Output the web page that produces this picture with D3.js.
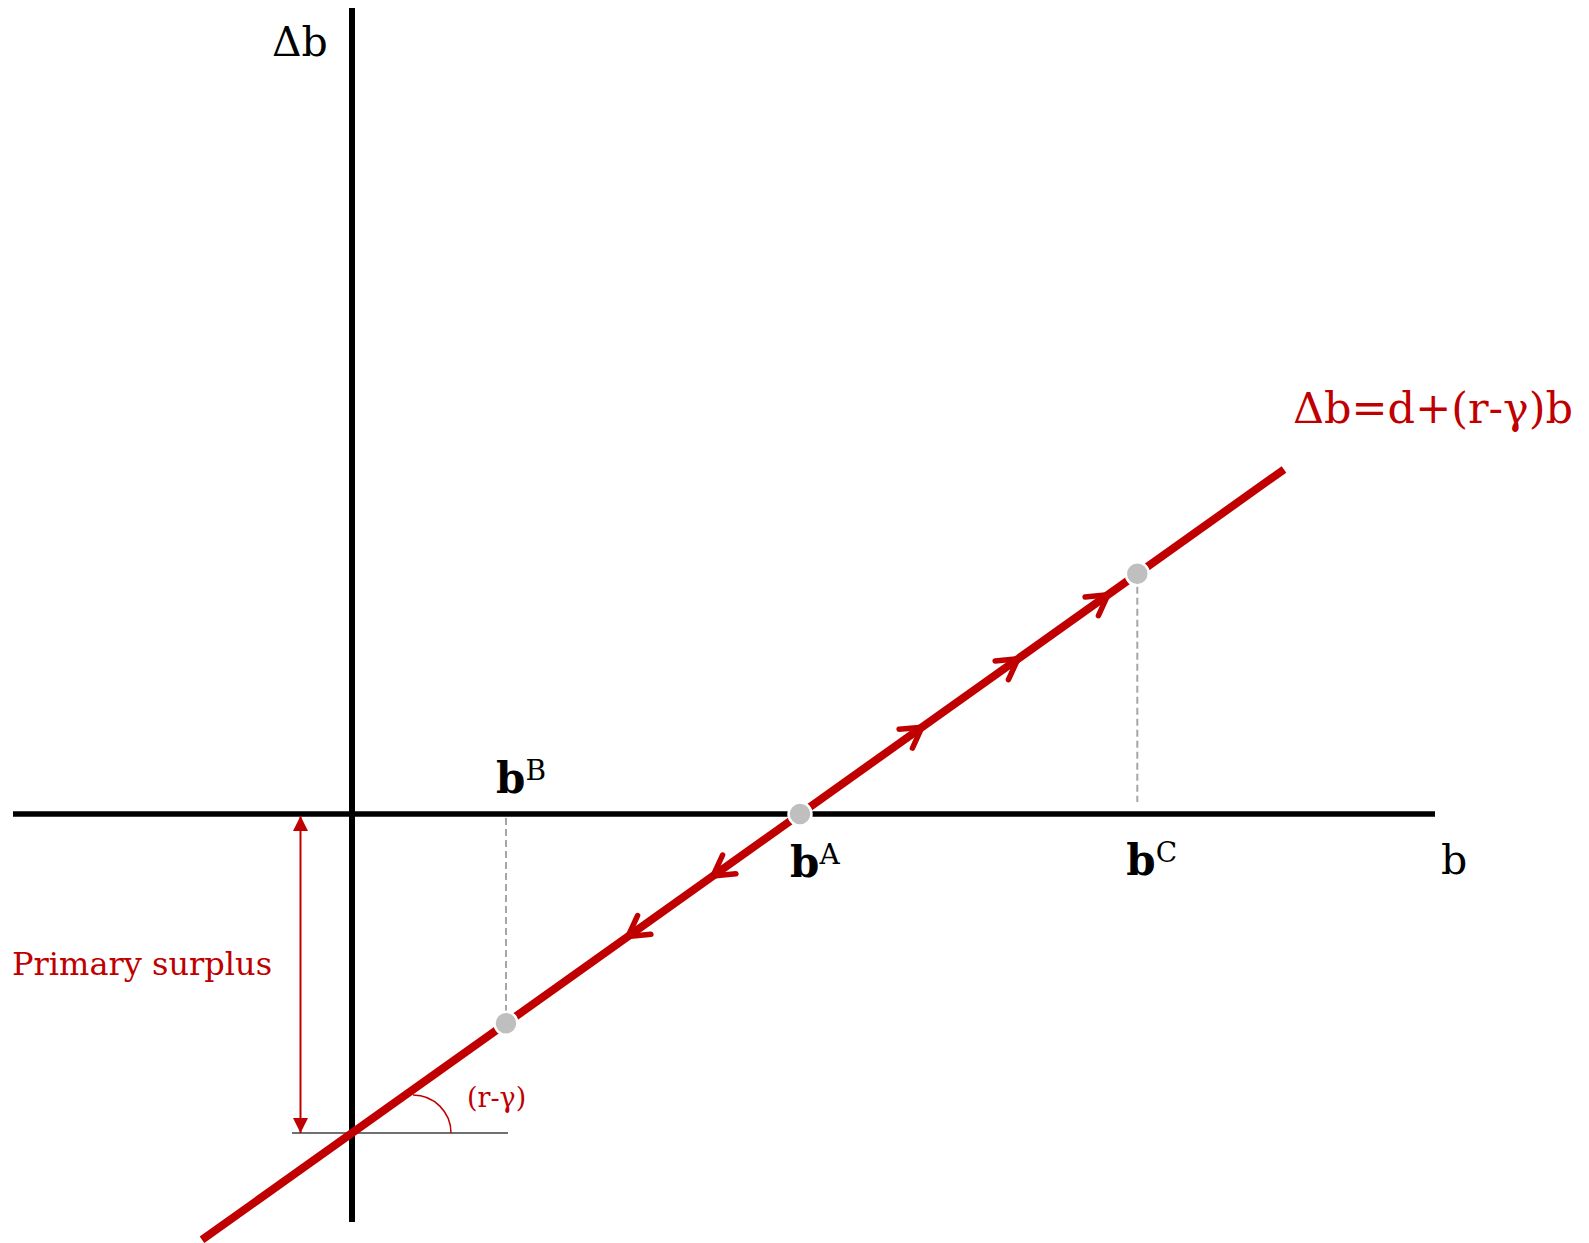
<!DOCTYPE html>
<html>
<head>
<meta charset="utf-8">
<script src="https://cdn.jsdelivr.net/npm/d3@7"></script>
<style>
  html, body { margin: 0; padding: 0; background: #fff; }
  svg { display: block; }
  text { font-family: "DejaVu Serif", "Liberation Serif", serif; }
</style>
</head>
<body>
<svg id="chart" width="1589" height="1243"></svg>
<script>
// Debt dynamics: Δb = d + (r-γ) b
const bDomain = [-3.39, 10.83];      // horizontal axis extent (b)
const dbDomain = [-4.08, 8.06];      // vertical axis extent (Δb)
const d = -3.19;                     // intercept: primary surplus
const rMinusGamma = 0.712;           // slope (r-γ)
const lineExtent = [-1.5, 9.32];     // drawn range of the debt line
const points = [
  { name: "A", b: 4.48 },
  { name: "B", b: 1.54 },
  { name: "C", b: 7.853 }
];
const arrowsUp = [5.70, 6.66, 7.56];   // divergence above b^A
const arrowsDown = [3.61, 2.76];       // divergence below b^A
const equationLabel = "Δb=d+(r-γ)b";
const surplusLabel = "Primary surplus";
const slopeLabel = "(r-γ)";

const red = "#C00000";
const svg = d3.select("#chart");
const x = d3.scaleLinear().domain(bDomain).range([13, 1435]);
const y = d3.scaleLinear().domain(dbDomain).range([1222, 8]);
const f = b => d + rMinusGamma * b;

// axes
svg.append("line")
  .attr("x1", x(bDomain[0])).attr("x2", x(bDomain[1]))
  .attr("y1", y(0)).attr("y2", y(0))
  .attr("stroke", "#000").attr("stroke-width", 5.5);
svg.append("line")
  .attr("x1", x(0)).attr("x2", x(0))
  .attr("y1", y(dbDomain[1])).attr("y2", y(dbDomain[0]))
  .attr("stroke", "#000").attr("stroke-width", 6);

// thin horizontal reference at the intercept
svg.append("line")
  .attr("x1", x(-0.6)).attr("x2", x(1.56))
  .attr("y1", y(d)).attr("y2", y(d))
  .attr("stroke", "#404040").attr("stroke-width", 1.5);

// dashed drop lines
const pB = points.find(p => p.name === "B");
const pC = points.find(p => p.name === "C");
svg.append("line")
  .attr("x1", x(pB.b)).attr("x2", x(pB.b))
  .attr("y1", y(0) + 4).attr("y2", y(f(pB.b)) - 12)
  .attr("stroke", "#A6A6A6").attr("stroke-width", 2)
  .attr("stroke-dasharray", "7,4");
svg.append("line")
  .attr("x1", x(pC.b)).attr("x2", x(pC.b))
  .attr("y1", y(f(pC.b)) + 13).attr("y2", y(0) - 12)
  .attr("stroke", "#A6A6A6").attr("stroke-width", 2)
  .attr("stroke-dasharray", "7,4");

// debt line
svg.append("path")
  .datum(lineExtent)
  .attr("d", d3.line().x(b => x(b)).y(b => y(f(b))))
  .attr("stroke", red).attr("stroke-width", 8).attr("fill", "none");

// open chevrons along the line
const ang = Math.atan2(y(f(1)) - y(f(0)), x(1) - x(0)); // screen angle of the line
function chevron(b, dir) {
  const tx = x(b), ty = y(f(b));
  const back = ang + (dir > 0 ? Math.PI : 0);
  const half = Math.PI / 6, len = 23;
  const p1 = [tx + len * Math.cos(back + half), ty + len * Math.sin(back + half)];
  const p2 = [tx + len * Math.cos(back - half), ty + len * Math.sin(back - half)];
  return `M${p1[0]},${p1[1]}L${tx},${ty}L${p2[0]},${p2[1]}`;
}
svg.selectAll("path.up").data(arrowsUp).join("path")
  .attr("class", "up")
  .attr("d", b => chevron(b, 1))
  .attr("fill", "none").attr("stroke", red).attr("stroke-width", 5.5)
  .attr("stroke-linecap", "round").attr("stroke-linejoin", "round");
svg.selectAll("path.down").data(arrowsDown).join("path")
  .attr("class", "down")
  .attr("d", b => chevron(b, -1))
  .attr("fill", "none").attr("stroke", red).attr("stroke-width", 5.5)
  .attr("stroke-linecap", "round").attr("stroke-linejoin", "round");

// angle arc marking the slope
const arcCx = x(0.61), arcCy = y(d), arcR = 38;
svg.append("path")
  .attr("d", `M${arcCx},${arcCy - arcR}A${arcR},${arcR} 0 0 1 ${arcCx + arcR},${arcCy}`)
  .attr("fill", "none").attr("stroke", red).attr("stroke-width", 1.5);

// primary surplus double arrow
const defs = svg.append("defs");
defs.append("marker").attr("id", "head")
  .attr("viewBox", "0 0 10 10").attr("refX", 10).attr("refY", 5)
  .attr("markerWidth", 16).attr("markerHeight", 15)
  .attr("markerUnits", "userSpaceOnUse")
  .attr("orient", "auto-start-reverse")
  .append("path").attr("d", "M0,0L10,5L0,10Z").attr("fill", red);
svg.append("line")
  .attr("x1", x(-0.515)).attr("x2", x(-0.515))
  .attr("y1", y(0) + 2).attr("y2", y(d))
  .attr("stroke", red).attr("stroke-width", 2)
  .attr("marker-start", "url(#head)").attr("marker-end", "url(#head)");

// points on the line
svg.selectAll("circle.pt").data(points).join("circle")
  .attr("class", "pt")
  .attr("cx", p => x(p.b)).attr("cy", p => y(f(p.b)))
  .attr("r", 11.5)
  .attr("fill", "#BFBFBF").attr("stroke", "#fff").attr("stroke-width", 2.5);

// axis titles
svg.append("text").attr("x", 272).attr("y", 56)
  .attr("font-size", 41).attr("fill", "#000").text("Δb");
svg.append("text").attr("x", 1441).attr("y", 874)
  .attr("font-size", 41).attr("fill", "#000").text("b");

// point labels with superscripts
const labelPos = { A: [x(4.48) - 10, 877], B: [x(1.54) - 10, 793], C: [x(7.853) - 11, 875] };
points.forEach(p => {
  const t = svg.append("text")
    .attr("x", labelPos[p.name][0]).attr("y", labelPos[p.name][1])
    .attr("fill", "#000");
  t.append("tspan").attr("font-size", 42).attr("font-weight", "bold").text("b");
  t.append("tspan").attr("font-size", 28).attr("dy", -13).text(p.name);
});

// equation and annotations
svg.append("text").attr("x", 1293).attr("y", 423)
  .attr("font-size", 43).attr("fill", red).text(equationLabel);
svg.append("text").attr("x", 12).attr("y", 975)
  .attr("font-size", 32).attr("fill", red).text(surplusLabel);
svg.append("text").attr("x", 467).attr("y", 1107)
  .attr("font-size", 27).attr("fill", red).text(slopeLabel);
</script>
</body>
</html>
